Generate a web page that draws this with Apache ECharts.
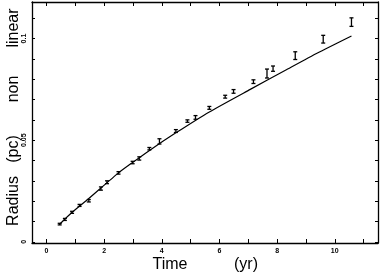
<!DOCTYPE html>
<html>
<head>
<meta charset="utf-8">
<script src="https://cdn.jsdelivr.net/npm/echarts@6/dist/echarts.min.js"></script>
<style>html,body{margin:0;padding:0;background:#fff}#c{width:382px;height:276px}</style>
</head>
<body>
<div id="c"></div>
<script>
// Measured data points (time in yr, radius in pc, error in pc)
var times  = [0.46, 0.64, 0.89, 1.15, 1.47, 1.89, 2.10, 2.50, 2.99, 3.22, 3.57, 3.92, 4.49, 4.89, 5.17, 5.65, 6.20, 6.49, 7.18, 7.65, 7.86, 8.63, 9.60, 10.58];
var radius = [0.0087, 0.0110, 0.0145, 0.0179, 0.0202, 0.0262, 0.0293, 0.0339, 0.0390, 0.0410, 0.0458, 0.0494, 0.0545, 0.0594, 0.0612, 0.0659, 0.0714, 0.0740, 0.0788, 0.0828, 0.0852, 0.0916, 0.0997, 0.1081];
var errors = [0.0004, 0.0005, 0.0005, 0.0005, 0.0006, 0.0008, 0.0007, 0.0006, 0.0006, 0.0008, 0.0006, 0.0013, 0.0007, 0.0006, 0.0009, 0.0007, 0.0007, 0.0009, 0.0009, 0.0022, 0.0013, 0.0019, 0.0019, 0.0021];
// Model curve samples
var curveT = [0.45, 0.89, 1.47, 2.50, 2.90, 3.60, 4.49, 5.65, 7.07, 8.29, 9.40, 10.58];
var curveR = [0.0085, 0.0145, 0.0213, 0.0339, 0.0381, 0.0452, 0.0536, 0.0639, 0.0750, 0.0844, 0.0929, 0.1013];
// Tick values
var xTicks = [0,1,2,3,4,5,6,7,8,9,10,11];
var xLabels = [0,2,4,6,8,10];
var yTicks = [0,0.01,0.02,0.03,0.04,0.05,0.06,0.07,0.08,0.09,0.1,0.11];
var yLabels = [0,0.05,0.1];

var pts = times.map(function(t,i){return [t, radius[i], errors[i]];});
var curve = curveT.map(function(t,i){return [t, curveR[i]];});

var lineStyle = {color:'#000', width:1.3};
var labelFont = {fontFamily:'Liberation Sans', fontWeight:'bold', fontSize:7, color:'#000'};

var chart = echarts.init(document.getElementById('c'), null, {renderer:'canvas'});
chart.setOption({
  animation:false,
  backgroundColor:'#fff',
  grid:{left:32, right:4, top:2, bottom:33, containLabel:false},
  xAxis:[
    {type:'value', min:-0.5, max:11.5, position:'bottom',
     axisLine:{show:true, onZero:false, lineStyle:lineStyle},
     axisTick:{show:true, inside:true, length:4, customValues:xTicks, lineStyle:{color:'#000', width:1}},
     axisLabel:Object.assign({show:true, margin:5, customValues:xLabels}, labelFont),
     splitLine:{show:false}},
    {type:'value', min:-0.5, max:11.5, position:'top',
     axisLine:{show:true, onZero:false, lineStyle:lineStyle},
     axisTick:{show:true, inside:true, length:4, customValues:xTicks, lineStyle:{color:'#000', width:1}},
     axisLabel:{show:false},
     splitLine:{show:false}}
  ],
  yAxis:[
    {type:'value', min:-0.0006, max:0.118, position:'left',
     axisLine:{show:true, onZero:false, lineStyle:lineStyle},
     axisTick:{show:true, inside:true, length:3, customValues:yTicks, lineStyle:{color:'#000', width:1}},
     axisLabel:Object.assign({show:true, rotate:90, margin:4, customValues:yLabels}, labelFont),
     splitLine:{show:false}},
    {type:'value', min:-0.0006, max:0.118, position:'right',
     axisLine:{show:true, onZero:false, lineStyle:lineStyle},
     axisTick:{show:true, inside:true, length:3, customValues:yTicks, lineStyle:{color:'#000', width:1}},
     axisLabel:{show:false},
     splitLine:{show:false}}
  ],
  series:[
    {type:'line', data:curve, showSymbol:false, smooth:0.2, xAxisIndex:0, yAxisIndex:0,
     lineStyle:{color:'#000', width:1.2}, silent:true},
    {type:'custom', data:pts, xAxisIndex:0, yAxisIndex:0,
     renderItem:function(params, api){
       var x = api.value(0), y = api.value(1), e = api.value(2);
       var lo = api.coord([x, y - e]);
       var hi = api.coord([x, y + e]);
       var hw = 2;
       var st = {stroke:'#000', lineWidth:1.3};
       return {type:'group', children:[
         {type:'line', shape:{x1:lo[0], y1:lo[1], x2:hi[0], y2:hi[1]}, style:st},
         {type:'line', shape:{x1:lo[0]-hw, y1:lo[1], x2:lo[0]+hw, y2:lo[1]}, style:st},
         {type:'line', shape:{x1:hi[0]-hw, y1:hi[1], x2:hi[0]+hw, y2:hi[1]}, style:st}
       ]};
     }}
  ],
  graphic:[
    {type:'text', x:170, y:265, style:{text:'Time', fontFamily:'Liberation Sans', fontSize:16, fill:'#000', align:'center', verticalAlign:'middle'}},
    {type:'text', x:246, y:265, style:{text:'(yr)', fontFamily:'Liberation Sans', fontSize:16, fill:'#000', align:'center', verticalAlign:'middle'}},
    {type:'text', x:14, y:201, rotation:Math.PI/2, style:{text:'Radius', fontFamily:'Liberation Sans', fontSize:16, fill:'#000', align:'center', verticalAlign:'middle'}},
    {type:'text', x:14, y:149, rotation:Math.PI/2, style:{text:'(pc)', fontFamily:'Liberation Sans', fontSize:16, fill:'#000', align:'center', verticalAlign:'middle'}},
    {type:'text', x:14, y:89, rotation:Math.PI/2, style:{text:'non', fontFamily:'Liberation Sans', fontSize:16, fill:'#000', align:'center', verticalAlign:'middle'}},
    {type:'text', x:14, y:28, rotation:Math.PI/2, style:{text:'linear', fontFamily:'Liberation Sans', fontSize:16, fill:'#000', align:'center', verticalAlign:'middle'}}
  ]
});
</script>
</body>
</html>
